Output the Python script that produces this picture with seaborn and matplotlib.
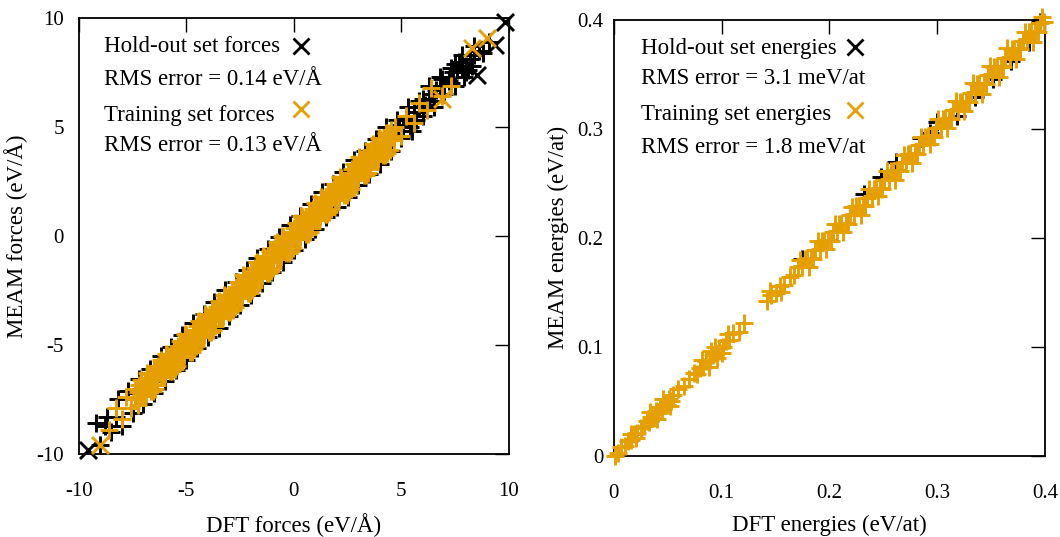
import matplotlib
matplotlib.use('Agg')
import matplotlib.pyplot as plt
from matplotlib.lines import Line2D
import seaborn as sns

# ---- forces (eV/Å) ----
train_force_dft = [
    -7.4, -7.1, -6.8, -6.5, -6.2, -5.9, -5.6, -5.3, -5.0, -4.7, -4.4, -4.1, -3.8, -3.5, -3.2, -2.9, -2.6, -2.3, -2.0, -1.7,
    -1.4, -1.1, -0.8, -0.5, -0.2, 0.1, 0.4, 0.7, 1.0, 1.3, 1.6, 1.9, 2.2, 2.5, 2.8, 3.1, 3.4, 3.7, 4.0, 4.3,
    -7.25, -6.95, -6.65, -6.35, -6.05, -5.75, -5.45, -5.15, -4.85, -4.55, -4.25, -3.95, -3.65, -3.35, -3.05, -2.75, -2.45, -2.15, -1.85, -1.55,
    -1.25, -0.95, -0.65, -0.35, -0.05, 0.25, 0.55, 0.85, 1.15, 1.45, 1.75, 2.05, 2.35, 2.65, 2.95, 3.25, 3.55, 3.85, 4.15, 4.45,
    -7.4, -7.1, -6.8, -6.5, -6.2, -5.9, -5.6, -5.3, -5.0, -4.7, -4.4, -4.1, -3.8, -3.5, -3.2, -2.9, -2.6, -2.3, -2.0, -1.7,
    -1.4, -1.1, -0.8, -0.5, -0.2, 0.1, 0.4, 0.7, 1.0, 1.3, 1.6, 1.9, 2.2, 2.5, 2.8, 3.1, 3.4, 3.7, 4.0, 4.3,
    -7.25, -6.95, -6.65, -6.35, -6.05, -5.75, -5.45, -5.15, -4.85, -4.55, -4.25, -3.95, -3.65, -3.35, -3.05, -2.75, -2.45, -2.15, -1.85, -1.55,
    -1.25, -0.95, -0.65, -0.35, -0.05, 0.25, 0.55, 0.85, 1.15, 1.45, 1.75, 2.05, 2.35, 2.65, 2.95, 3.25, 3.55, 3.85, 4.15, 4.45,
    -7.3, -7.0, -6.7, -6.4, -6.1, -5.8, -5.5, -5.2, -4.9, -4.6, -4.3, -4.0, -3.7, -3.4, -3.1, -2.8, -2.5, -2.2, -1.9, -1.6,
    -1.3, -1.0, -0.7, -0.4, -0.1, 0.2, 0.5, 0.8, 1.1, 1.4, 1.7, 2.0, 2.3, 2.6, 2.9, 3.2, 3.5, 3.8, 4.1, 4.4,
    -7.15, -6.85, -6.55, -6.25, -5.95, -5.65, -5.35, -5.05, -4.75, -4.45, -4.15, -3.85, -3.55, -3.25, -2.95, -2.65, -2.35, -2.05, -1.75, -1.45,
    -1.15, -0.85, -0.55, -0.25, 0.05, 0.35, 0.65, 0.95, 1.25, 1.55, 1.85, 2.15, 2.45, 2.75, 3.05, 3.35, 3.65, 3.95, 4.25, 4.55,
    -7.2, -6.9, -6.6, -6.3, -6.0, -5.7, -5.4, -5.1, -4.8, -4.5, -4.2, -3.9, -3.6, -3.3, -3.0, -2.7, -2.4, -2.1, -1.8, -1.5,
    -1.2, -0.9, -0.6, -0.3, 0.0, 0.3, 0.6, 0.9, 1.2, 1.5, 1.8, 2.1, 2.4, 2.7, 3.0, 3.3, 3.6, 3.9, 4.2, 4.5,
    -7.05, -6.75, -6.45, -6.15, -5.85, -5.55, -5.25, -4.95, -4.65, -4.35, -4.05, -3.75, -3.45, -3.15, -2.85, -2.55, -2.25, -1.95, -1.65, -1.35,
    -1.05, -0.75, -0.45, -0.15, 0.15, 0.45, 0.75, 1.05, 1.35, 1.65, 1.95, 2.25, 2.55, 2.85, 3.15, 3.45, 3.75, 4.05, 4.35, 4.65,
    -8.6, -8.3, -8.0, -7.8, -7.6, 4.7, 5.0, 5.2, 5.6, 5.8, 6.2, 6.4, 6.9, 7.3,
]
train_force_meam = [
    -7.0, -6.6, -6.35, -6.1, -5.7, -5.45, -5.2, -4.8, -4.55, -4.3, -3.9, -3.65, -3.4, -3.0, -2.75, -2.5, -2.1, -1.85, -1.6, -1.2,
    -0.95, -0.7, -0.3, -0.05, 0.2, 0.6, 0.85, 1.1, 1.5, 1.75, 2.0, 2.4, 2.65, 2.9, 3.3, 3.55, 3.8, 4.2, 4.45, 4.7,
    -7.15, -6.75, -6.5, -6.25, -5.85, -5.6, -5.35, -4.95, -4.7, -4.45, -4.05, -3.8, -3.55, -3.15, -2.9, -2.65, -2.25, -2.0, -1.75, -1.35,
    -1.1, -0.85, -0.45, -0.2, 0.05, 0.45, 0.7, 0.95, 1.35, 1.6, 1.85, 2.25, 2.5, 2.75, 3.15, 3.4, 3.65, 4.05, 4.3, 4.55,
    -7.5, -7.3, -6.95, -6.6, -6.4, -6.05, -5.7, -5.5, -5.15, -4.8, -4.6, -4.25, -3.9, -3.7, -3.35, -3.0, -2.8, -2.45, -2.1, -1.9,
    -1.55, -1.2, -1.0, -0.65, -0.3, -0.1, 0.25, 0.6, 0.8, 1.15, 1.5, 1.7, 2.05, 2.4, 2.6, 2.95, 3.3, 3.5, 3.85, 4.2,
    -7.75, -7.35, -7.1, -6.85, -6.45, -6.2, -5.95, -5.55, -5.3, -5.05, -4.65, -4.4, -4.15, -3.75, -3.5, -3.25, -2.85, -2.6, -2.35, -1.95,
    -1.7, -1.45, -1.05, -0.8, -0.55, -0.15, 0.1, 0.35, 0.75, 1.0, 1.25, 1.65, 1.9, 2.15, 2.55, 2.8, 3.05, 3.45, 3.7, 3.95,
    -7.0, -7.3, -6.7, -6.1, -6.4, -5.8, -5.2, -5.5, -4.9, -4.3, -4.6, -4.0, -3.4, -3.7, -3.1, -2.5, -2.8, -2.2, -1.6, -1.9,
    -1.3, -0.7, -1.0, -0.4, 0.2, -0.1, 0.5, 1.1, 0.8, 1.4, 2.0, 1.7, 2.3, 2.9, 2.6, 3.2, 3.8, 3.5, 4.1, 4.7,
    -7.15, -6.3, -7.1, -6.25, -5.4, -6.2, -5.35, -4.5, -5.3, -4.45, -3.6, -4.4, -3.55, -2.7, -3.5, -2.65, -1.8, -2.6, -1.75, -0.9,
    -1.7, -0.85, 0.0, -0.8, 0.05, 0.9, 0.1, 0.95, 1.8, 1.0, 1.85, 2.7, 1.9, 2.75, 3.6, 2.8, 3.65, 4.5, 3.7, 4.55,
    -6.85, -7.25, -6.55, -5.95, -6.35, -5.65, -5.05, -5.45, -4.75, -4.15, -4.55, -3.85, -3.25, -3.65, -2.95, -2.35, -2.75, -2.05, -1.45, -1.85,
    -1.15, -0.55, -0.95, -0.25, 0.35, -0.05, 0.65, 1.25, 0.85, 1.55, 2.15, 1.75, 2.45, 3.05, 2.65, 3.35, 3.95, 3.55, 4.25, 4.85,
    -7.3, -6.5, -7.0, -6.4, -5.6, -6.1, -5.5, -4.7, -5.2, -4.6, -3.8, -4.3, -3.7, -2.9, -3.4, -2.8, -2.0, -2.5, -1.9, -1.1,
    -1.6, -1.0, -0.2, -0.7, -0.1, 0.7, 0.2, 0.8, 1.6, 1.1, 1.7, 2.5, 2.0, 2.6, 3.4, 2.9, 3.5, 4.3, 3.8, 4.4,
    -8.9, -7.9, -8.4, -7.4, -7.9, 5.0, 4.6, 5.5, 5.2, 6.1, 5.8, 6.8, 6.4, 6.9,
]
train_force_dft_x = [-9.0, 8.3, 9.0, 6.9]
train_force_meam_x = [-9.6, 8.6, 9.1, 6.3]

hold_force_dft = [
    -9.2, -8.7, -8.2, -7.7, -7.2, -6.7, -6.2, -5.7, -5.2, -4.7, -4.2, -3.7, -3.2, -2.7, -2.2, -1.7, -1.2, -0.7,
    -0.2, 0.3, 0.8, 1.3, 1.8, 2.3, 2.8, 3.3, 3.8, 4.3, 4.8, 5.3, 5.8, 6.3, 6.8, 7.3, 7.8,
    -9.0, -8.5, -8.0, -7.5, -7.0, -6.5, -6.0, -5.5, -5.0, -4.5, -4.0, -3.5, -3.0, -2.5, -2.0, -1.5, -1.0, -0.5,
    0.0, 0.5, 1.0, 1.5, 2.0, 2.5, 3.0, 3.5, 4.0, 4.5, 5.0, 5.5, 6.0, 6.5, 7.0, 7.5, 8.0,
    4.6, 5.1, 5.6, 6.1, 6.6, 7.0, 7.4, 7.8, 8.2, 8.6, 8.0, 7.2,
    4.9, 5.3, 5.8, 6.3, 6.4, 6.8, 7.6, 8.4, -8.8, -8.3, -7.4, -6.9,
    5.0, 5.4, 5.7, 6.0, 6.5, 6.9, 7.3, 7.7, 8.1, 8.4, 8.8, 9.1, 7.9, 8.3, 7.5,
]
hold_force_meam = [
    -8.6, -8.3, -7.5, -7.1, -6.55, -6.1, -5.5, -5.1, -4.55, -4.0, -3.6, -3.05, -2.5, -2.1, -1.55, -1.0, -0.6, -0.05,
    0.5, 0.9, 1.45, 2.0, 2.4, 2.95, 3.5, 3.9, 4.45, 5.0, 5.3, 5.9, 6.2, 6.9, 7.3, 7.7, 8.3,
    -9.6, -9.0, -8.7, -8.1, -7.7, -7.2, -6.65, -6.15, -5.7, -5.15, -4.65, -4.2, -3.65, -3.15, -2.7, -2.15, -1.65, -1.2,
    -0.65, -0.15, 0.3, 0.85, 1.35, 1.8, 2.35, 2.85, 3.3, 3.9, 4.5, 4.8, 5.5, 5.9, 6.5, 6.9, 7.5,
    4.7, 5.0, 5.7, 6.0, 6.7, 6.9, 7.5, 7.7, 8.1, 8.5, 7.8, 7.1,
    5.1, 5.4, 5.9, 6.2, 6.5, 6.9, 7.6, 8.3, -8.7, -8.3, -7.2, -6.9,
    4.6, 5.0, 5.3, 6.3, 6.2, 7.2, 7.0, 8.0, 7.6, 8.7, 8.4, 8.9, 7.3, 7.8, 7.9,
]
hold_force_dft_x = [9.8, 9.35, 8.5, -9.6]
hold_force_meam_x = [9.8, 8.76, 7.4, -9.8]

# ---- energies (eV/at) ----
train_energy_dft = [
    0.001, 0.004, 0.007, 0.010, 0.013, 0.016, 0.019, 0.022, 0.025, 0.028,
    0.031, 0.033, 0.035, 0.037, 0.039, 0.041, 0.043, 0.045, 0.047, 0.049, 0.051, 0.053, 0.055,
    0.060, 0.065, 0.070,
    0.074, 0.077, 0.080, 0.083, 0.086, 0.089, 0.092, 0.095, 0.098, 0.101, 0.104, 0.107,
    0.111, 0.116, 0.121,
    0.142, 0.146, 0.150, 0.154, 0.158, 0.163, 0.167,
    0.171, 0.175, 0.179, 0.183, 0.187, 0.191, 0.195, 0.199, 0.203, 0.207, 0.211, 0.215, 0.219, 0.223,
    0.227, 0.231, 0.235, 0.239, 0.243, 0.247, 0.251, 0.255, 0.259, 0.263, 0.267, 0.271, 0.275, 0.279,
    0.283, 0.287, 0.291, 0.295, 0.299, 0.303, 0.307, 0.311, 0.315, 0.319, 0.323, 0.327, 0.331, 0.335,
    0.339, 0.343, 0.347, 0.351, 0.355, 0.359, 0.363, 0.367, 0.371, 0.375, 0.379, 0.383, 0.387, 0.391,
    0.395, 0.399,
    0.173, 0.181, 0.189, 0.197, 0.205, 0.213, 0.221, 0.229, 0.237, 0.245, 0.253, 0.261, 0.269, 0.277,
    0.285, 0.293, 0.301, 0.309, 0.317, 0.325, 0.333, 0.341, 0.349, 0.357, 0.365, 0.373, 0.381, 0.389, 0.397,
    0.177, 0.185, 0.193, 0.201, 0.209, 0.217, 0.225, 0.233, 0.241, 0.249, 0.257, 0.265, 0.273, 0.281,
    0.289, 0.297, 0.305, 0.313, 0.321, 0.329, 0.337, 0.345, 0.353, 0.361, 0.369, 0.377, 0.385, 0.393,
    0.034, 0.040, 0.046, 0.052, 0.082, 0.088, 0.094, 0.100, 0.106, 0.090, 0.096, 0.145, 0.155, 0.016, 0.021,
]
train_energy_meam = [
    0.000, 0.003, 0.008, 0.009, 0.014, 0.015, 0.020, 0.021, 0.026, 0.027,
    0.032, 0.031, 0.036, 0.035, 0.041, 0.039, 0.045, 0.043, 0.048, 0.047, 0.052, 0.050, 0.056,
    0.061, 0.064, 0.071,
    0.076, 0.075, 0.081, 0.082, 0.087, 0.088, 0.093, 0.094, 0.099, 0.100, 0.105, 0.106,
    0.113, 0.114, 0.122,
    0.142, 0.148, 0.149, 0.156, 0.157, 0.164, 0.166,
    0.173, 0.174, 0.181, 0.182, 0.189, 0.190, 0.197, 0.198, 0.205, 0.206, 0.213, 0.214, 0.221, 0.222,
    0.229, 0.230, 0.237, 0.238, 0.245, 0.246, 0.253, 0.254, 0.261, 0.262, 0.269, 0.270, 0.277, 0.278,
    0.285, 0.286, 0.293, 0.294, 0.301, 0.302, 0.309, 0.310, 0.317, 0.318, 0.325, 0.326, 0.333, 0.334,
    0.341, 0.342, 0.349, 0.350, 0.357, 0.358, 0.365, 0.366, 0.373, 0.374, 0.381, 0.382, 0.389, 0.390,
    0.397, 0.398,
    0.180, 0.173, 0.197, 0.190, 0.213, 0.205, 0.228, 0.221, 0.245, 0.238, 0.261, 0.253, 0.276, 0.269,
    0.293, 0.286, 0.309, 0.301, 0.326, 0.316, 0.342, 0.332, 0.358, 0.348, 0.374, 0.364, 0.389, 0.380, 0.403,
    0.181, 0.181, 0.197, 0.197, 0.213, 0.213, 0.229, 0.229, 0.245, 0.245, 0.261, 0.261, 0.277, 0.277,
    0.293, 0.293, 0.309, 0.309, 0.325, 0.325, 0.341, 0.341, 0.357, 0.357, 0.373, 0.373, 0.389, 0.389,
    0.040, 0.034, 0.052, 0.046, 0.088, 0.082, 0.100, 0.094, 0.112, 0.096, 0.090, 0.151, 0.150, 0.020, 0.016,
]
hold_energy_dft = [0.175, 0.232, 0.248, 0.262, 0.285, 0.293, 0.300, 0.318, 0.335, 0.352, 0.368, 0.385, 0.395]
hold_energy_meam = [0.181, 0.240, 0.256, 0.270, 0.292, 0.296, 0.306, 0.312, 0.329, 0.346, 0.362, 0.380, 0.398]

force_ticks = [-10, -5, 0, 5, 10]
force_tick_labels = ["-10", "-5", "0", "5", "10"]
energy_ticks = [0, 0.1, 0.2, 0.3, 0.4]
energy_tick_labels = ["0", "0.1", "0.2", "0.3", "0.4"]

force_labels = ["Hold-out set forces", "RMS error = 0.14 eV/Å", "Training set forces", "RMS error = 0.13 eV/Å"]
energy_labels = ["Hold-out set energies", "RMS error = 3.1 meV/at", "Training set energies", "RMS error = 1.8 meV/at"]

ORANGE = "#E69F00"
FS = 16.5
TICK_FS = 15

sns.set_theme(style="white")
plt.rcParams['font.family'] = ['Liberation Serif', 'DejaVu Serif']
plt.rcParams['axes.unicode_minus'] = False

fig = plt.figure(figsize=(10.6, 5.37), dpi=100)
ax1 = fig.add_axes([0.0745, 0.1546, 0.4055, 0.812])
ax2 = fig.add_axes([0.579, 0.151, 0.407, 0.812])

PT_S = 150
PT_LW = 2.1


def draw(ax, xs, ys, marker, color):
    sns.scatterplot(x=xs, y=ys, marker=marker, color=color, s=PT_S,
                    linewidth=PT_LW, legend=False, ax=ax, clip_on=False, zorder=3)


draw(ax1, hold_force_dft, hold_force_meam, '+', 'black')
draw(ax1, hold_force_dft_x, hold_force_meam_x, 'x', 'black')
draw(ax1, train_force_dft, train_force_meam, '+', ORANGE)
draw(ax1, train_force_dft_x, train_force_meam_x, 'x', ORANGE)

draw(ax2, hold_energy_dft, hold_energy_meam, '+', 'black')
draw(ax2, train_energy_dft, train_energy_meam, '+', ORANGE)


def style(ax, lim, ticks, tick_labels, xlabel, ylabel, labels, x0, ypos, xm, ypad):
    ax.set_xlim(lim)
    ax.set_ylim(lim)
    ax.set_xticks(ticks)
    ax.set_yticks(ticks)
    ax.set_xticklabels(tick_labels)
    ax.set_yticklabels(tick_labels)
    ax.tick_params(direction='in', length=10, width=1.0, top=True, right=True,
                   labelsize=TICK_FS, color='black', labelcolor='black')
    ax.tick_params(axis='x', pad=20)
    ax.tick_params(axis='y', pad=ypad)
    for sp in ax.spines.values():
        sp.set_color('black')
        sp.set_linewidth(1.3)
    ax.set_xlabel(xlabel, fontsize=FS, color='black', labelpad=9)
    ax.set_ylabel(ylabel, fontsize=FS, color='black', labelpad=6)

    # key: text lines as plain text, markers from an empty-label legend
    for lab, yy in zip(labels, ypos[:4]):
        ax.text(x0, yy, lab, transform=ax.transAxes, fontsize=FS,
                va='center', ha='left', color='black')
    handles = [Line2D([], [], ls='none', marker='x', color='black', ms=12, mew=2.0),
               Line2D([], [], ls='none', marker='x', color=ORANGE, ms=12, mew=2.0)]
    ax.legend(handles, ['', ''], loc='center', bbox_to_anchor=(xm, ypos[4]),
              frameon=False, fontsize=FS, labelspacing=1.84, borderpad=0,
              borderaxespad=0, handlelength=0.8, handletextpad=0)


style(ax1, (-10, 10), force_ticks, force_tick_labels,
      "DFT forces (eV/Å)", "MEAM forces (eV/Å)", force_labels,
      0.058, [0.934, 0.858, 0.777, 0.707, 0.857], 0.516, 11)
style(ax2, (0, 0.4), energy_ticks, energy_tick_labels,
      "DFT energies (eV/at)", "MEAM energies (eV/at)", energy_labels,
      0.063, [0.934, 0.866, 0.782, 0.707, 0.859], 0.559, 7.5)

fig.savefig("out.png", dpi=100, facecolor='white')
